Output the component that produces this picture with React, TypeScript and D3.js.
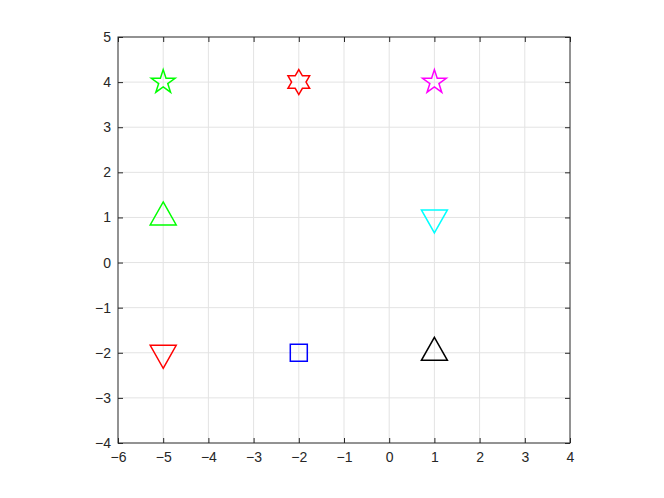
import React, { useEffect, useRef } from "react";
import * as d3 from "d3";

// punto: x, y, marcador, color
const xs = [-5, -2, 1, -5, 1, -5, -2, 1];
const ys = [4, 4, 4, 1, 1, -2, -2, -2];
const shapes = ["pentagram", "hexagram", "pentagram", "up", "down", "down", "square", "up"];
const colors = ["#00ff00", "#ff0000", "#ff00ff", "#00ff00", "#00ffff", "#ff0000", "#0000ff", "#000000"];

const xTicks = [-6, -5, -4, -3, -2, -1, 0, 1, 2, 3, 4];
const yTicks = [-4, -3, -2, -1, 0, 1, 2, 3, 4, 5];

const starPath = (n: number, rOut: number, rIn: number) => {
  const pts: [number, number][] = [];
  for (let i = 0; i < n * 2; i++) {
    const r = i % 2 === 0 ? rOut : rIn;
    const a = (Math.PI * i) / n;
    pts.push([r * Math.sin(a), -r * Math.cos(a)]);
  }
  return d3.line()(pts) + "Z";
};

const markerPath = (s: string) => {
  if (s === "pentagram") return starPath(5, 12.5, 12.5 * 0.382);
  if (s === "hexagram") return starPath(6, 12.5, 12.5 / Math.sqrt(3));
  if (s === "square") return "M-8.5,-8.5H8.5V8.5H-8.5Z";
  if (s === "up") return "M0,-15.5L13,7.5L-13,7.5Z";
  return "M0,15.5L13,-7.5L-13,-7.5Z";
};

const App = () => {
  const svgRef = useRef<SVGSVGElement>(null);
  const width = 664;
  const height = 498;
  const margin = { top: 37, right: 94, bottom: 55, left: 118 };
  const w = width - margin.left - margin.right;
  const h = height - margin.top - margin.bottom;

  useEffect(() => {
    const root = d3.select(svgRef.current);
    root.selectAll("*").remove();
    const svg = root.append("g").attr("transform", `translate(${margin.left},${margin.top})`);

    const x = d3.scaleLinear().domain([-6, 4]).range([0, w]);
    const y = d3.scaleLinear().domain([-4, 5]).range([h, 0]);

    svg.append("rect").attr("width", w).attr("height", h).attr("fill", "#fff");

    // cuadrícula
    svg.selectAll(".gx").data(xTicks.slice(1, -1)).enter().append("line")
      .attr("x1", (d) => x(d)).attr("x2", (d) => x(d)).attr("y1", 0).attr("y2", h)
      .attr("stroke", "#e3e3e3").attr("stroke-width", 1);
    svg.selectAll(".gy").data(yTicks.slice(1, -1)).enter().append("line")
      .attr("y1", (d) => y(d)).attr("y2", (d) => y(d)).attr("x1", 0).attr("x2", w)
      .attr("stroke", "#e3e3e3").attr("stroke-width", 1);

    const font = "'Liberation Sans', Arial, sans-serif";
    const axisColor = "#262626";
    const fmt = (d: any) => d3.format("")(d).replace("-", "\u2212");

    const styleAxis = (g: any) => {
      g.select(".domain").remove();
      g.selectAll("line").attr("stroke", axisColor);
      g.selectAll("text").attr("fill", axisColor).style("font-family", font).style("font-size", "14px");
    };

    svg.append("g").attr("transform", `translate(0,${h})`)
      .call(d3.axisBottom(x).tickValues(xTicks).tickSize(-5).tickPadding(9).tickFormat(fmt))
      .call(styleAxis);
    svg.append("g")
      .call(d3.axisLeft(y).tickValues(yTicks).tickSize(-5).tickPadding(7).tickFormat(fmt))
      .call(styleAxis);
    svg.append("g")
      .call(d3.axisTop(x).tickValues(xTicks).tickSize(-5).tickFormat(() => ""))
      .call(styleAxis);
    svg.append("g").attr("transform", `translate(${w},0)`)
      .call(d3.axisRight(y).tickValues(yTicks).tickSize(-5).tickFormat(() => ""))
      .call(styleAxis);

    svg.append("rect").attr("width", w).attr("height", h)
      .attr("fill", "none").attr("stroke", axisColor).attr("stroke-width", 1);

    // marcadores
    svg.selectAll(".mk").data(xs).enter().append("path")
      .attr("transform", (d, i) => `translate(${x(d)},${y(ys[i])})`)
      .attr("d", (_, i) => markerPath(shapes[i]))
      .attr("fill", "none")
      .attr("stroke", (_, i) => colors[i])
      .attr("stroke-width", 1.5)
      .attr("stroke-linejoin", "miter");
  }, []);

  return (
    <svg ref={svgRef} width={width} height={height}
      style={{ position: "absolute", left: 0, top: 0, background: "#fff" }} />
  );
};

export default App;
